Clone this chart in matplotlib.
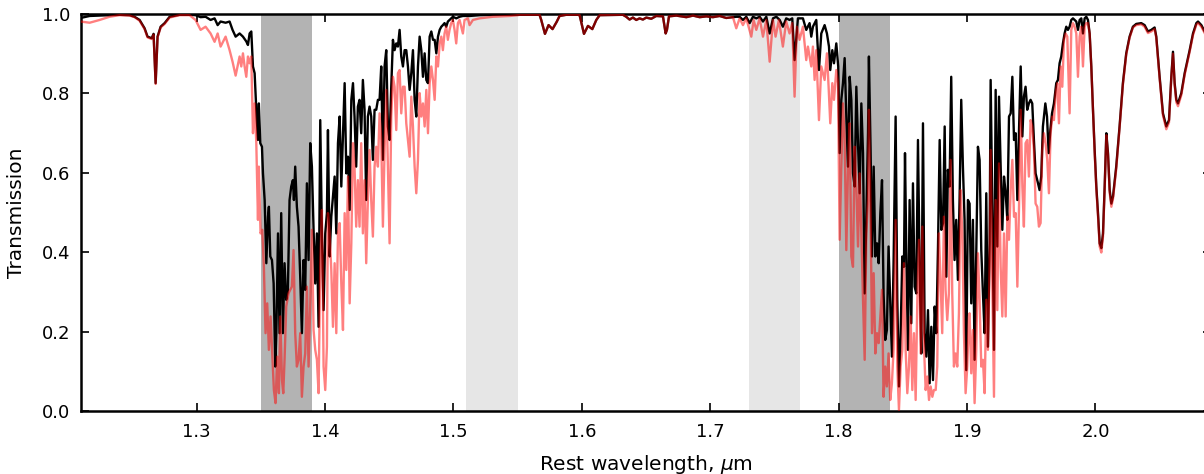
"""
Telluric transmission around the J/H/K gaps -- two model atmospheres
(black: reference, red: wetter) with the fitted windows shaded.
"""

import numpy as np
import matplotlib
matplotlib.use("Agg")
import matplotlib.pyplot as plt

# ──────────────────────────────────────────────
# 0. Style
# ──────────────────────────────────────────────
plt.rcParams.update({
    "font.family": "DejaVu Sans",
    "font.size": 13,
    "axes.labelsize": 14.5,
    "axes.labelpad": 7,
    "mathtext.fontset": "dejavusans",
    "axes.linewidth": 1.8,
    "xtick.direction": "in",
    "ytick.direction": "in",
    "xtick.top": True,
    "ytick.right": True,
    "xtick.major.size": 6,
    "ytick.major.size": 6,
    "xtick.major.width": 1.2,
    "ytick.major.width": 1.2,
    "xtick.major.pad": 8,
    "ytick.major.pad": 8,
    "figure.facecolor": "white",
})

COLORS = {
    "ref": "k",
    "wet": "r",
    "dark_band": "0.70",
    "light_band": "0.90",
}

# ──────────────────────────────────────────────
# 1. Data (wavelength in micron, transmission 0..1)
# ──────────────────────────────────────────────
# blue end, 1.21 - 1.33 (both spectra sampled on the same points)
WL_BLUE = [1.2097, 1.2167, 1.2245, 1.2322, 1.2400, 1.2478, 1.2517, 1.2556, 1.2595, 1.2618,
           1.2650, 1.2665, 1.2681, 1.2696, 1.2720, 1.2751, 1.2790, 1.2868, 1.2945, 1.2992,
           1.3031, 1.3070, 1.3109, 1.3140, 1.3164, 1.3187, 1.3226, 1.3257, 1.3280, 1.3304]
K_BLUE = [0.990, 0.995, 0.996, 0.997, 0.998, 0.997, 0.993, 0.985, 0.964, 0.943,
          0.939, 0.950, 0.826, 0.943, 0.968, 0.977, 0.993, 0.998, 0.998, 0.997,
          0.992, 0.993, 0.985, 0.989, 0.972, 0.981, 0.978, 0.981, 0.960, 0.943]
R_BLUE = [0.981, 0.978, 0.985, 0.993, 0.997, 0.996, 0.992, 0.983, 0.962, 0.941,
          0.937, 0.948, 0.824, 0.941, 0.966, 0.975, 0.991, 0.997, 0.997, 0.985,
          0.960, 0.968, 0.951, 0.930, 0.951, 0.918, 0.943, 0.909, 0.880, 0.845]

# first water band, 1.33 - 1.43
WL_K_BAND1 = [1.3335, 1.3361, 1.3387, 1.3400, 1.3413, 1.3426, 1.3439, 1.3452, 1.3465, 1.3478,
              1.3485, 1.3496, 1.3509, 1.3517, 1.3530, 1.3543, 1.3556, 1.3563, 1.3574, 1.3587,
              1.3600, 1.3613, 1.3621, 1.3634, 1.3646, 1.3659, 1.3672, 1.3685, 1.3698, 1.3711,
              1.3724, 1.3737, 1.3750, 1.3758, 1.3768,
              1.3781, 1.3794, 1.3807, 1.3820, 1.3833, 1.3846, 1.3859, 1.3872, 1.3885, 1.3898,
              1.3911, 1.3924, 1.3937, 1.3950, 1.3963, 1.3976, 1.3989, 1.4002, 1.4015,
              1.4023, 1.4036, 1.4049, 1.4062, 1.4075, 1.4088, 1.4101, 1.4114, 1.4127, 1.4140,
              1.4153, 1.4166, 1.4179, 1.4192, 1.4205, 1.4218, 1.4230, 1.4243, 1.4256]
K_BAND1 = [0.951, 0.943, 0.931, 0.922, 0.951, 0.956, 0.868, 0.851, 0.759, 0.683,
           0.775, 0.675, 0.666, 0.599, 0.532, 0.373, 0.490, 0.515, 0.390, 0.381,
           0.322, 0.113, 0.197, 0.448, 0.197, 0.499, 0.197, 0.373, 0.281, 0.306,
           0.532, 0.566, 0.582, 0.532, 0.616,
           0.515, 0.465, 0.339, 0.197, 0.381, 0.306, 0.574, 0.381, 0.675, 0.616,
           0.457, 0.322, 0.448, 0.213, 0.733, 0.448, 0.255, 0.448, 0.499,
           0.708, 0.390, 0.490, 0.541, 0.591, 0.448, 0.675, 0.742, 0.566, 0.700,
           0.826, 0.599, 0.641, 0.507, 0.784, 0.826, 0.742, 0.616, 0.767]
WL_R_BAND1 = [1.3335, 1.3348, 1.3361, 1.3374, 1.3387, 1.3400, 1.3413, 1.3426, 1.3439, 1.3452,
              1.3465, 1.3478,
              1.3485, 1.3498, 1.3511, 1.3524, 1.3537, 1.3550, 1.3563, 1.3576, 1.3589, 1.3602,
              1.3615, 1.3628, 1.3641, 1.3652, 1.3665, 1.3675, 1.3685, 1.3698,
              1.3716, 1.3729, 1.3742, 1.3755, 1.3768, 1.3781, 1.3794, 1.3807, 1.3820, 1.3833,
              1.3846, 1.3859, 1.3872, 1.3885, 1.3898, 1.3911, 1.3924, 1.3937, 1.3950, 1.3963,
              1.3976, 1.3989, 1.4002, 1.4015,
              1.4023, 1.4036, 1.4049, 1.4062, 1.4075, 1.4088, 1.4101, 1.4114, 1.4127, 1.4140,
              1.4153, 1.4166, 1.4179, 1.4192, 1.4205, 1.4218, 1.4230, 1.4243, 1.4256]
R_BAND1 = [0.893, 0.868, 0.901, 0.868, 0.842, 0.893, 0.876, 0.893, 0.700, 0.775,
           0.675, 0.482,
           0.616, 0.448, 0.457, 0.364, 0.197, 0.272, 0.155, 0.239, 0.146, 0.054,
           0.021, 0.138, 0.046, 0.239, 0.079, 0.046, 0.130, 0.264,
           0.297, 0.306, 0.314, 0.406, 0.197, 0.113, 0.130, 0.197, 0.037, 0.113,
           0.146, 0.314, 0.113, 0.264, 0.457, 0.205, 0.155, 0.130, 0.046, 0.373,
           0.507, 0.113, 0.054, 0.163,
           0.499, 0.448, 0.356, 0.213, 0.373, 0.197, 0.448, 0.474, 0.322, 0.205,
           0.499, 0.356, 0.591, 0.272, 0.423, 0.675, 0.616, 0.465, 0.582]

# recovery towards the H band, 1.43 - 1.55
WL_K_RISE = [1.4269, 1.4282, 1.4295, 1.4308, 1.4321, 1.4334, 1.4347, 1.4360, 1.4373, 1.4386,
             1.4399, 1.4412, 1.4425, 1.4438, 1.4451, 1.4464, 1.4477, 1.4490, 1.4503, 1.4516,
             1.4529, 1.4542, 1.4555, 1.4568, 1.4581, 1.4594, 1.4607, 1.4620, 1.4633, 1.4646,
             1.4659, 1.4672, 1.4685, 1.4698, 1.4711, 1.4724, 1.4737, 1.4750, 1.4763, 1.4776,
             1.4789, 1.4802, 1.4815, 1.4828, 1.4841, 1.4854, 1.4867, 1.4880, 1.4893, 1.4906,
             1.4918, 1.4931, 1.4944, 1.4957, 1.4970, 1.4983, 1.4996, 1.5022, 1.5048, 1.5074,
             1.5113, 1.5126, 1.5204, 1.5308, 1.5503]
K_RISE = [0.784, 0.700, 0.834, 0.759, 0.532, 0.742, 0.767, 0.742, 0.633, 0.759,
          0.759, 0.784, 0.784, 0.868, 0.633, 0.868, 0.909, 0.717, 0.683, 0.817,
          0.935, 0.909, 0.926, 0.918, 0.960, 0.893, 0.868, 0.909, 0.909, 0.868,
          0.809, 0.851, 0.909, 0.784, 0.742, 0.868, 0.943, 0.909, 0.842, 0.901,
          0.834, 0.826, 0.943, 0.956, 0.935, 0.935, 0.901, 0.943, 0.960, 0.968,
          0.972, 0.977, 0.968, 0.981, 0.985, 0.989, 0.993, 0.989, 0.993, 0.995,
          0.995, 0.995, 0.997, 0.998, 0.998]
WL_R_RISE = [1.4269, 1.4282, 1.4295, 1.4308, 1.4321, 1.4334, 1.4347, 1.4360, 1.4373, 1.4386,
             1.4399, 1.4412, 1.4425, 1.4438, 1.4451, 1.4464, 1.4477, 1.4490, 1.4503, 1.4516,
             1.4529, 1.4542, 1.4555, 1.4568, 1.4581, 1.4594, 1.4607, 1.4620, 1.4633, 1.4646,
             1.4659, 1.4672, 1.4685, 1.4698, 1.4711, 1.4724, 1.4737, 1.4750, 1.4763, 1.4776,
             1.4789, 1.4802, 1.4815, 1.4828, 1.4841, 1.4854, 1.4867, 1.4880, 1.4893, 1.4906,
             1.4918, 1.4931, 1.4944, 1.4957, 1.4970, 1.4983, 1.4996, 1.5009, 1.5022, 1.5035,
             1.5048, 1.5074, 1.5087, 1.5113, 1.5126, 1.5152, 1.5204, 1.5308, 1.5438, 1.5503]
R_RISE = [0.465, 0.675, 0.448, 0.582, 0.373, 0.532, 0.658, 0.532, 0.440, 0.616,
          0.666, 0.616, 0.750, 0.683, 0.465, 0.658, 0.809, 0.616, 0.423, 0.742,
          0.842, 0.817, 0.708, 0.851, 0.859, 0.750, 0.817, 0.817, 0.725, 0.683,
          0.641, 0.792, 0.717, 0.616, 0.549, 0.633, 0.801, 0.742, 0.775, 0.717,
          0.809, 0.700, 0.826, 0.868, 0.834, 0.784, 0.893, 0.868, 0.926, 0.943,
          0.909, 0.951, 0.968, 0.935, 0.960, 0.977, 0.985, 0.960, 0.926, 0.977,
          0.985, 0.951, 0.985, 0.989, 0.972, 0.985, 0.989, 0.993, 0.995, 0.997]

# clean H band, 1.55 - 1.72 (both spectra coincide)
WL_MID = [1.5516, 1.5671, 1.5684, 1.5713, 1.5741, 1.5772, 1.5804, 1.5827, 1.5879, 1.5970,
          1.5983, 1.6017, 1.6048, 1.6082, 1.6113, 1.6139, 1.6320, 1.6346, 1.6372, 1.6398,
          1.6424, 1.6450, 1.6476, 1.6502, 1.6541, 1.6580, 1.6632, 1.6653, 1.6663, 1.6679,
          1.6736, 1.6814, 1.6866, 1.6918, 1.6970, 1.7021, 1.7073, 1.7125, 1.7177]
T_MID = [0.998, 0.998, 0.985, 0.950, 0.972, 0.962, 0.980, 0.995, 0.998, 0.998,
         0.997, 0.950, 0.970, 0.962, 0.985, 0.997, 0.998, 0.993, 0.986, 0.991,
         0.985, 0.989, 0.986, 0.991, 0.988, 0.995, 0.994, 0.951, 0.960, 0.994,
         0.996, 0.992, 0.996, 0.992, 0.994, 0.992, 0.995, 0.990, 0.992]

# onset of the second water band, 1.72 - 1.81
WL_K_ONSET = [1.7203, 1.7229, 1.7255, 1.7281, 1.7307, 1.7333, 1.7359, 1.7385, 1.7411, 1.7437,
              1.7463, 1.7489, 1.7515, 1.7541, 1.7566, 1.7592, 1.7618, 1.7639, 1.7657, 1.7683,
              1.7722, 1.7748, 1.7774, 1.7787, 1.7800, 1.7826, 1.7847, 1.7865, 1.7891, 1.7909,
              1.7925, 1.7935, 1.7951, 1.7964, 1.7982, 1.7997, 1.8008, 1.8021, 1.8034, 1.8047,
              1.8060, 1.8073]
K_ONSET = [0.993, 0.993, 0.985, 0.993, 0.977, 0.993, 0.989, 0.993, 0.981, 0.993,
           0.951, 0.989, 0.993, 0.985, 0.968, 0.989, 0.985, 0.989, 0.884, 0.989,
           0.989, 0.960, 0.977, 0.943, 0.968, 0.985, 0.859, 0.951, 0.972, 0.951,
           0.918, 0.859, 0.909, 0.876, 0.926, 0.868, 0.650, 0.784, 0.826, 0.889,
           0.742, 0.616]
WL_R_ONSET = [1.7203, 1.7229, 1.7255, 1.7281, 1.7320, 1.7338, 1.7359, 1.7385, 1.7411, 1.7437,
              1.7463, 1.7489, 1.7509, 1.7535, 1.7566, 1.7592, 1.7618, 1.7639, 1.7657, 1.7675,
              1.7696, 1.7722, 1.7735, 1.7748, 1.7761, 1.7774, 1.7787, 1.7800, 1.7813, 1.7826,
              1.7847, 1.7865, 1.7891, 1.7909, 1.7922, 1.7935, 1.7951, 1.7964, 1.7982, 1.7995,
              1.8008, 1.8021, 1.8034, 1.8047, 1.8060, 1.8073]
R_ONSET = [0.964, 0.989, 0.972, 0.989, 0.943, 0.985, 0.960, 0.989, 0.943, 0.985,
           0.880, 0.985, 0.943, 0.985, 0.918, 0.981, 0.951, 0.977, 0.792, 0.968,
           0.935, 0.968, 0.926, 0.884, 0.918, 0.893, 0.868, 0.918, 0.834, 0.909,
           0.733, 0.868, 0.834, 0.901, 0.817, 0.725, 0.826, 0.784, 0.859, 0.826,
           0.432, 0.616, 0.775, 0.683, 0.406, 0.608]

# core of the second water band, 1.81 - 1.90
WL_K_BAND2 = [1.8086, 1.8099, 1.8112, 1.8125, 1.8138, 1.8151, 1.8164, 1.8177, 1.8190, 1.8203,
              1.8216, 1.8229, 1.8236, 1.8249, 1.8260, 1.8273, 1.8286, 1.8299, 1.8312, 1.8325,
              1.8338, 1.8350, 1.8363, 1.8376, 1.8389, 1.8402, 1.8415, 1.8428, 1.8444, 1.8457,
              1.8470, 1.8483, 1.8496, 1.8509, 1.8517, 1.8527, 1.8540, 1.8553, 1.8566, 1.8579,
              1.8592, 1.8605, 1.8618, 1.8631, 1.8644, 1.8657, 1.8670, 1.8683, 1.8696, 1.8709,
              1.8722, 1.8735, 1.8748, 1.8761, 1.8774, 1.8787, 1.8800, 1.8813, 1.8826, 1.8839,
              1.8851, 1.8864, 1.8877, 1.8890, 1.8903, 1.8916, 1.8929, 1.8942, 1.8955, 1.8968,
              1.8981, 1.8994, 1.9007]
K_BAND2 = [0.842, 0.784, 0.599, 0.566, 0.817, 0.675, 0.549, 0.775, 0.650, 0.297,
           0.490, 0.700, 0.893, 0.658, 0.390, 0.616, 0.390, 0.423, 0.373, 0.499,
           0.582, 0.297, 0.180, 0.205, 0.415, 0.272, 0.138, 0.373, 0.742, 0.281,
           0.063, 0.197, 0.390, 0.364, 0.650, 0.406, 0.155, 0.532, 0.222, 0.574,
           0.314, 0.297, 0.683, 0.364, 0.146, 0.725, 0.197, 0.138, 0.255, 0.071,
           0.213, 0.079, 0.264, 0.197, 0.415, 0.683, 0.457, 0.474, 0.717, 0.339,
           0.608, 0.566, 0.842, 0.532, 0.381, 0.482, 0.331, 0.532, 0.784, 0.616,
           0.482, 0.104, 0.532]
WL_R_BAND2 = [1.8086, 1.8099, 1.8112, 1.8125, 1.8138, 1.8151, 1.8164, 1.8177, 1.8190, 1.8203,
              1.8216, 1.8229, 1.8236, 1.8249, 1.8260, 1.8273, 1.8286, 1.8299, 1.8312, 1.8325,
              1.8338, 1.8350, 1.8363, 1.8376, 1.8389, 1.8402, 1.8415, 1.8428, 1.8444, 1.8457,
              1.8470, 1.8483, 1.8496, 1.8509, 1.8522, 1.8535, 1.8548, 1.8561, 1.8574, 1.8587,
              1.8600, 1.8613, 1.8626, 1.8639, 1.8652, 1.8665, 1.8678, 1.8691, 1.8704, 1.8717,
              1.8730, 1.8742, 1.8756, 1.8768, 1.8781, 1.8794, 1.8807, 1.8820, 1.8833, 1.8846,
              1.8859, 1.8872, 1.8885, 1.8898, 1.8911, 1.8924, 1.8937, 1.8950, 1.8963, 1.8976,
              1.8989, 1.9002, 1.9015]
R_BAND2 = [0.725, 0.390, 0.364, 0.666, 0.566, 0.415, 0.599, 0.448, 0.281, 0.130,
           0.448, 0.532, 0.759, 0.490, 0.197, 0.348, 0.146, 0.197, 0.172, 0.239,
           0.306, 0.037, 0.113, 0.063, 0.146, 0.029, 0.071, 0.155, 0.482, 0.113,
           0.004, 0.113, 0.155, 0.373, 0.155, 0.046, 0.113, 0.239, 0.054, 0.197,
           0.029, 0.281, 0.432, 0.146, 0.465, 0.163, 0.054, 0.088, 0.029, 0.063,
           0.037, 0.054, 0.054, 0.113, 0.448, 0.331, 0.197, 0.490, 0.306, 0.230,
           0.297, 0.633, 0.297, 0.113, 0.146, 0.113, 0.247, 0.557, 0.448, 0.197,
           0.046, 0.113, 0.239]

# exit of the second water band, 1.90 - 1.996
WL_K_EXIT = [1.9020, 1.9033, 1.9046, 1.9059, 1.9072, 1.9085, 1.9098, 1.9111, 1.9124, 1.9137,
             1.9150, 1.9163, 1.9176,
             1.9184, 1.9197, 1.9210, 1.9223, 1.9236, 1.9249, 1.9262, 1.9275, 1.9288, 1.9301,
             1.9314, 1.9327, 1.9340, 1.9353, 1.9366, 1.9379, 1.9392, 1.9405, 1.9418, 1.9431,
             1.9443, 1.9456, 1.9469, 1.9482, 1.9495, 1.9508, 1.9521, 1.9534,
             1.9553, 1.9565, 1.9578, 1.9591, 1.9610, 1.9623, 1.9636, 1.9649, 1.9662,
             1.9677, 1.9695, 1.9708, 1.9721, 1.9734, 1.9747, 1.9760, 1.9773, 1.9786, 1.9799,
             1.9812, 1.9825, 1.9838, 1.9851, 1.9864, 1.9877, 1.9890, 1.9903, 1.9916, 1.9929,
             1.9942, 1.9955]
K_EXIT = [0.523, 0.272, 0.482, 0.130, 0.406, 0.666, 0.633, 0.406, 0.297, 0.197,
          0.549, 0.163, 0.423,
          0.834, 0.515, 0.155, 0.809, 0.415, 0.792, 0.616, 0.457, 0.591, 0.549,
          0.482, 0.742, 0.750, 0.842, 0.683, 0.700, 0.532, 0.708, 0.868, 0.692,
          0.792, 0.817, 0.759, 0.775, 0.784, 0.775, 0.683, 0.599,
          0.574, 0.557, 0.591, 0.717, 0.775, 0.742, 0.650, 0.708, 0.750,
          0.775, 0.826, 0.834, 0.876, 0.893, 0.926, 0.951, 0.968, 0.960, 0.968,
          0.985, 0.989, 0.985, 0.981, 0.960, 0.985, 0.989, 0.951, 0.989, 0.993,
          0.985, 0.951]
WL_R_EXIT = [1.9020, 1.9033, 1.9046, 1.9059, 1.9072, 1.9085, 1.9098, 1.9111, 1.9124, 1.9137,
             1.9150, 1.9163, 1.9176,
             1.9184, 1.9197, 1.9210, 1.9223, 1.9236, 1.9249, 1.9262, 1.9275, 1.9288, 1.9301,
             1.9314, 1.9327, 1.9340, 1.9353, 1.9366, 1.9379, 1.9392, 1.9405, 1.9418, 1.9431,
             1.9443, 1.9456, 1.9469, 1.9482, 1.9495, 1.9508, 1.9521, 1.9534, 1.9547, 1.9560,
             1.9573, 1.9586, 1.9599, 1.9612, 1.9625, 1.9638, 1.9651, 1.9664, 1.9677, 1.9690,
             1.9703, 1.9716, 1.9729, 1.9742, 1.9755, 1.9768, 1.9781,
             1.9799, 1.9812, 1.9825, 1.9838, 1.9851, 1.9864, 1.9877, 1.9890, 1.9903, 1.9916,
             1.9929, 1.9942, 1.9955]
R_EXIT = [0.247, 0.096, 0.205, 0.021, 0.155, 0.398, 0.281, 0.113, 0.130, 0.046,
          0.281, 0.155, 0.364,
          0.658, 0.322, 0.037, 0.532, 0.255, 0.624, 0.364, 0.239, 0.448, 0.239,
          0.490, 0.432, 0.557, 0.633, 0.490, 0.499, 0.314, 0.515, 0.759, 0.566,
          0.465, 0.675, 0.683, 0.591, 0.733, 0.717, 0.658, 0.523, 0.515, 0.465,
          0.474, 0.658, 0.700, 0.675, 0.633, 0.549, 0.700, 0.742, 0.733, 0.801,
          0.826, 0.725, 0.868, 0.817, 0.935, 0.951, 0.943,
          0.750, 0.960, 0.977, 0.968, 0.951, 0.842, 0.943, 0.968, 0.868, 0.968,
          0.977, 0.977, 0.951]

# K band with the CO2 features, 1.996 - 2.09
WL_TAIL = [1.9968, 1.9981, 1.9994, 2.0007, 2.0020, 2.0033, 2.0046, 2.0059, 2.0072, 2.0085,
           2.0098, 2.0111, 2.0124, 2.0137, 2.0162, 2.0188, 2.0214, 2.0240, 2.0266, 2.0292,
           2.0318, 2.0357, 2.0383, 2.0409, 2.0435, 2.0461, 2.0474, 2.0500, 2.0526, 2.0552,
           2.0573, 2.0591, 2.0604, 2.0617, 2.0630, 2.0643, 2.0669, 2.0695, 2.0734, 2.0760,
           2.0786, 2.0799, 2.0825, 2.0850, 2.0900]
K_TAIL = [0.868, 0.759, 0.658, 0.566, 0.499, 0.423, 0.411, 0.448, 0.566, 0.700,
          0.650, 0.557, 0.523, 0.541, 0.616, 0.717, 0.826, 0.901, 0.943, 0.968,
          0.975, 0.977, 0.972, 0.956, 0.960, 0.966, 0.943, 0.842, 0.750, 0.717,
          0.733, 0.842, 0.905, 0.826, 0.784, 0.775, 0.801, 0.851, 0.909, 0.951,
          0.977, 0.981, 0.972, 0.956, 0.930]
R_TAIL = [0.865, 0.755, 0.652, 0.560, 0.492, 0.415, 0.400, 0.440, 0.560, 0.695,
          0.645, 0.550, 0.515, 0.535, 0.610, 0.713, 0.822, 0.898, 0.940, 0.966,
          0.972, 0.974, 0.968, 0.952, 0.956, 0.962, 0.940, 0.838, 0.745, 0.710,
          0.727, 0.838, 0.900, 0.822, 0.778, 0.768, 0.796, 0.847, 0.905, 0.947,
          0.973, 0.977, 0.968, 0.952, 0.925]

# shaded windows (micron)
DARK_WINDOWS = [(1.35, 1.39), (1.80, 1.84)]
LIGHT_WINDOWS = [(1.51, 1.55), (1.73, 1.77)]

# ──────────────────────────────────────────────
# 2. Assemble the two spectra
# ──────────────────────────────────────────────
wl_ref = np.concatenate([WL_BLUE, WL_K_BAND1, WL_K_RISE, WL_MID, WL_K_ONSET,
                         WL_K_BAND2, WL_K_EXIT, WL_TAIL])
tr_ref = np.concatenate([K_BLUE, K_BAND1, K_RISE, T_MID, K_ONSET,
                         K_BAND2, K_EXIT, K_TAIL])
wl_wet = np.concatenate([WL_BLUE, WL_R_BAND1, WL_R_RISE, WL_MID, WL_R_ONSET,
                         WL_R_BAND2, WL_R_EXIT, WL_TAIL])
tr_wet = np.concatenate([R_BLUE, R_BAND1, R_RISE, T_MID, R_ONSET,
                         R_BAND2, R_EXIT, R_TAIL])

# ──────────────────────────────────────────────
# 3. Plot
# ──────────────────────────────────────────────
fig = plt.figure(figsize=(12.04, 4.74), dpi=100)
ax = fig.add_axes([0.0673, 0.1319, 0.9385, 0.8386])

for lo, hi in DARK_WINDOWS:
    ax.axvspan(lo, hi, color=COLORS["dark_band"], lw=0, zorder=1)
for lo, hi in LIGHT_WINDOWS:
    ax.axvspan(lo, hi, color=COLORS["light_band"], lw=0, zorder=1)

ax.plot(wl_ref, tr_ref, color=COLORS["ref"], lw=1.7, zorder=3)
ax.plot(wl_wet, tr_wet, color=COLORS["wet"], lw=1.7, alpha=0.5, zorder=4)

ax.set_xlim(1.21, 2.09)
ax.set_ylim(0.0, 1.0)
ax.set_xticks([1.3, 1.4, 1.5, 1.6, 1.7, 1.8, 1.9, 2.0])
ax.set_yticks([0.0, 0.2, 0.4, 0.6, 0.8, 1.0])
ax.set_xlabel(r"Rest wavelength, $\mu$m", labelpad=9)
ax.set_ylabel("Transmission", labelpad=11)

fig.savefig("out.png", dpi=100)
plt.close(fig)
